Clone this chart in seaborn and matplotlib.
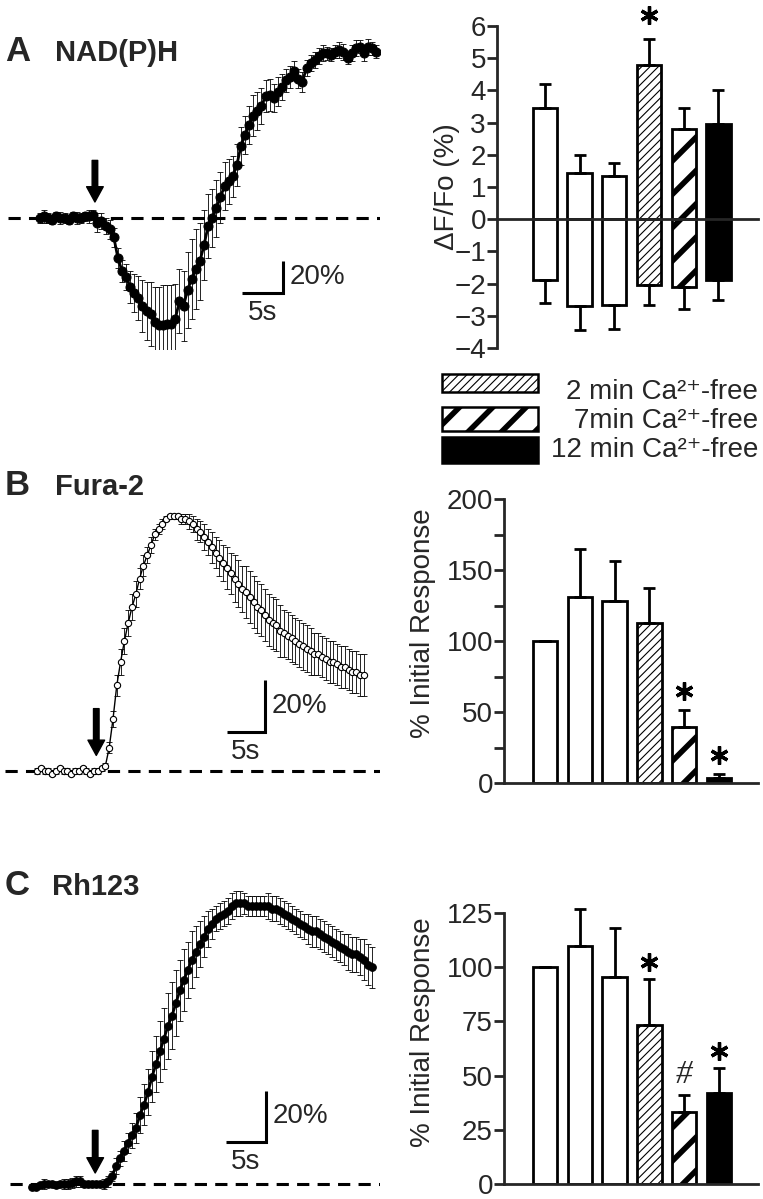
import numpy as np
import matplotlib
matplotlib.use("Agg")
import matplotlib.pyplot as plt
from matplotlib.patches import Rectangle
from matplotlib.ticker import MultipleLocator
from matplotlib.transforms import offset_copy
import seaborn as sns

sns.set_style("ticks")
plt.rcParams['font.family'] = ['Liberation Sans', 'DejaVu Sans']
plt.rcParams['hatch.color'] = 'black'

W, H = 763, 1199
dt = 0.5  # sampling interval of the traces (s)
FS = 20

# ---- traces: % change from baseline, mean and SEM ----
nadh_mean = [0, 1, 0, -1, 1, 0, 0, -1, 1, 0, 0, 1, 1, 2,
             -3, -2, -5, -7, -12,
             -25, -33, -37, -43, -47, -50,
             -55, -58, -60, -65, -67, -67, -66, -66, -63, -52,
             -55, -45, -38, -32, -27, -17, -5, 0,
             6, 13, 20, 23, 26, 33, 45, 52,
             58, 64, 67, 70, 76, 77, 75, 79,
             82, 86, 88, 92, 87, 85, 94, 97,
             99, 101, 103, 103, 102, 104, 105, 104, 100, 103, 106, 107, 103, 107, 106, 104]
nadh_sem = [3, 4, 3, 3, 3, 4, 3, 3, 3, 4, 3, 3, 4, 3,
            6, 5, 5, 6, 6,
            6, 7, 8, 10, 12, 14,
            16, 18, 20, 22, 24, 25, 24, 24, 22, 20,
            22, 24, 25, 25, 24, 22, 20, 18,
            18, 16, 15, 14, 13, 13, 12, 12,
            12, 13, 12, 11, 10, 10, 9, 9,
            8, 7, 7, 6, 6, 6, 5, 5,
            5, 5, 5, 4, 4, 4, 5, 5, 4, 5, 5, 4, 5, 5, 4, 4]

fura_mean = [0, 1, 0, 0, -1, 0, 1, 0, 0, -1, 0, 0, 1, 0, -1, 0, 0, 1,
             2, 9, 20, 33, 42, 50, 57, 63, 68, 74, 79, 83, 87, 91, 93,
             95, 97, 98, 98, 98, 97, 97, 96,
             95, 93, 92, 90, 88, 86, 84, 82, 80, 78, 76, 74, 72, 70, 69, 67,
             65, 63, 62, 60, 58, 57, 56, 54, 53, 52, 51, 50, 49, 48, 47,
             46, 45, 45, 44, 43, 42, 42, 41, 40, 40, 39, 38, 38, 37, 37]
fura_sem = [1, 1, 1, 1, 1, 1, 1, 1, 1, 1, 1, 1, 1, 1, 1, 1, 1, 1,
            1, 2, 3, 4, 5, 5, 5, 5, 5, 4, 4, 3, 3, 2, 2,
            2, 1, 1, 1, 1, 2, 2, 3,
            3, 4, 4, 5, 5, 6, 6, 7, 7, 8, 8, 9, 9, 9, 10, 10,
            10, 10, 10, 10, 10, 10, 10, 10, 9, 9, 9, 9, 9, 9, 9,
            9, 8, 8, 8, 8, 8, 8, 8, 8, 8, 8, 8, 8, 8, 8]

rh_mean = [-1, -1, -0.5, 0, 0, 0, -0.5, 0, 0, 0, 0.5, 1, 1, 0, 0, 0, 0, 0, 0, 1,
           3, 7, 10, 13, 16, 19, 22, 27, 31, 36, 42, 47, 52, 57, 62, 66, 71, 76, 80, 84,
           88, 91, 94, 97, 100, 102, 104, 105, 106, 107, 109, 110, 110, 110, 109, 109, 109, 109, 109, 109,
           108, 108, 107, 106, 105, 104, 103, 102, 101, 100, 99, 99, 98, 97, 96, 95, 94, 93, 92, 91,
           90, 90, 89, 88, 86, 85]
rh_sem = [1, 1, 1, 2, 1, 1, 1, 1, 2, 2, 2, 2, 2, 1, 1, 1, 1, 1, 2, 2,
          2, 3, 3, 4, 4, 5, 6, 7, 8, 9, 10, 11, 12, 12, 13, 13, 13, 12, 12, 11,
          11, 10, 9, 8, 7, 6, 5, 5, 5, 5, 5, 5, 5, 4, 4, 4, 4, 4, 4, 5,
          5, 5, 5, 5, 5, 5, 5, 5, 5, 6, 6, 6, 6, 6, 6, 6, 6, 6, 6, 7,
          7, 7, 7, 8, 8, 8]

# ---- bar data ----
groups = ["1", "2", "3", "2 min", "7 min", "12 min"]
nadh_up = [3.45, 1.45, 1.35, 4.8, 2.8, 2.95]
nadh_up_err = [0.75, 0.55, 0.4, 0.8, 0.65, 1.05]
nadh_down = [-1.9, -2.7, -2.65, -2.05, -2.1, -1.9]
nadh_down_err = [0.7, 0.75, 0.75, 0.6, 0.7, 0.6]
fura_bar = [100, 131, 128, 113, 39.5, 3.8]
fura_bar_err = [0, 34, 28, 24, 12, 2.2]
rh_bar = [100, 110, 95.4, 73.2, 33.4, 41.8]
rh_bar_err = [0, 17, 22.6, 21.4, 7.7, 11.9]

legend_labels = ["2 min Ca²⁺-free", "7min Ca²⁺-free", "12 min Ca²⁺-free"]

fig = plt.figure(figsize=(W / 100, H / 100), dpi=100)


def px_axes(left, top, right, bottom):
    return fig.add_axes([left / W, 1 - bottom / H, (right - left) / W, (bottom - top) / H])


def style_bar(p, i):
    if i == 3:
        p.set_hatch('////')
        if hasattr(p, 'set_hatch_linewidth'):
            p.set_hatch_linewidth(0.8)
    elif i == 4:
        p.set_hatch('/')
        if hasattr(p, 'set_hatch_linewidth'):
            p.set_hatch_linewidth(4.0)
    elif i == 5:
        p.set_facecolor('black')


def trace(ax, mean, sem, style, xlim, ylim, arrow, sbar):
    t = np.arange(len(mean)) * dt
    ax.axhline(0, color='black', lw=2.2, ls=(0, (4, 2.7)), zorder=1)
    ax.errorbar(t, mean, yerr=sem, fmt='none', ecolor='black', elinewidth=0.6,
                capsize=2.5, capthick=0.6, zorder=2)
    if style == 'open':
        sns.lineplot(x=t, y=mean, ax=ax, color='black', lw=1.0, marker='o', markersize=4.5,
                     markerfacecolor='white', markeredgecolor='black', markeredgewidth=0.8, zorder=3)
    else:
        sns.lineplot(x=t, y=mean, ax=ax, color='black', lw=2.0, marker='o', markersize=style,
                     markerfacecolor='black', markeredgecolor='black', zorder=3)
    ta, tip, tail = arrow
    ax.annotate('', xy=(ta, tip), xytext=(ta, tail),
                arrowprops=dict(facecolor='black', edgecolor='black', width=4, headwidth=12,
                                headlength=11, shrink=0))
    t0, y0 = sbar
    ax.plot([t0, t0 + 5, t0 + 5], [y0, y0, y0 + 20], color='black', lw=2.2,
            solid_joinstyle='miter', solid_capstyle='butt')
    ax.annotate('20%', xy=(t0 + 5, y0 + 10), xytext=(7, 0), textcoords='offset pixels',
                fontsize=FS, va='center', ha='left')
    ax.annotate('5s', xy=(t0 + 2.5, y0), xytext=(0, -20), textcoords='offset pixels',
                fontsize=FS, va='center', ha='center')
    ax.set_xlim(*xlim)
    ax.set_ylim(*ylim)
    ax.set_axis_off()


def bars(ax, vals, errs, ylim, ylabel, label_xy):
    sns.barplot(x=groups, y=vals, ax=ax, color='white', edgecolor='black', linewidth=2,
                width=0.7, saturation=1, errorbar=None)
    for i, p in enumerate(ax.patches[-len(groups):]):
        style_bar(p, i)
    ax.errorbar(range(len(groups)), vals, yerr=[np.zeros(len(errs)), errs], fmt='none',
                ecolor='black', elinewidth=2, capsize=4.5, capthick=2, clip_on=False)
    ax.set_ylim(*ylim)
    ax.set_xlim(-1.18, 6.12)
    ax.set_xticks([])
    ax.set_xlabel('')
    ax.set_ylabel(ylabel, fontsize=FS)
    ax.yaxis.set_label_coords(*label_xy)
    sns.despine(ax=ax)
    for s in ('left', 'bottom'):
        ax.spines[s].set_linewidth(2)
    ax.tick_params(axis='y', which='both', direction='out', length=7, width=2, labelsize=FS, pad=1)


def marks(ax, idx, tops, sym, dy):
    tr = offset_copy(ax.transData, fig=fig, y=dy, units='dots')
    for i in idx:
        if sym == '*':
            ax.plot(i, tops[i], marker=(6, 2, 0), ms=13, mew=2.4, color='black',
                    transform=tr, clip_on=False)
        else:
            ax.text(i, tops[i], sym, transform=tr, ha='center', va='center', fontsize=24,
                    family='Liberation Serif', style='italic', clip_on=False)


# ---------------- Panel A ----------------
axA = px_axes(8, 30, 380, 350)
trace(axA, nadh_mean, nadh_sem, 6.5, (-3.9, 41.46), (-82.5, 117.5), (6.7, 10, 36), (24.6, -47))
fig.text(5 / W, 1 - 61 / H, 'A', fontsize=25, fontweight='bold')
fig.text(55 / W, 1 - 61 / H, 'NAD(P)H', fontsize=21, fontweight='bold')

axAb = px_axes(497, 26, 758, 348)
sns.barplot(x=groups, y=nadh_up, ax=axAb, color='white', edgecolor='black', linewidth=2,
            width=0.7, saturation=1, errorbar=None)
sns.barplot(x=groups, y=nadh_down, ax=axAb, color='white', edgecolor='black', linewidth=2,
            width=0.7, saturation=1, errorbar=None)
for i, p in enumerate(axAb.patches):
    style_bar(p, i % len(groups))
n = len(groups)
axAb.errorbar(range(n), nadh_up, yerr=[np.zeros(n), nadh_up_err], fmt='none',
              ecolor='black', elinewidth=2, capsize=4.5, capthick=2)
axAb.errorbar(range(n), nadh_down, yerr=[nadh_down_err, np.zeros(n)], fmt='none',
              ecolor='black', elinewidth=2, capsize=4.5, capthick=2)
axAb.set_ylim(-4, 6)
axAb.set_xlim(-1.38, 6.14)
axAb.set_yticks(range(-4, 7))
axAb.set_xticks([])
axAb.set_xlabel('')
axAb.set_ylabel('ΔF/Fo (%)', fontsize=FS)
axAb.yaxis.set_label_coords(-0.142, 0.5)
sns.despine(ax=axAb)
axAb.spines['bottom'].set_position(('data', 0))
for s in ('left', 'bottom'):
    axAb.spines[s].set_linewidth(2)
axAb.tick_params(axis='y', direction='out', length=7, width=2, labelsize=FS, pad=1)
marks(axAb, [3], [u + e for u, e in zip(nadh_up, nadh_up_err)], '*', 24)

# legend
rows = [(374, 392, '////', 'white', 399), (407, 431, '/', 'white', 428), (437, 463, None, 'black', 457)]
for (top, bot, hatch, fc, base), lab in zip(rows, legend_labels):
    r = Rectangle((442 / W, 1 - bot / H), 96 / W, (bot - top) / H, transform=fig.transFigure,
                  facecolor=fc, edgecolor='black', linewidth=1.8, hatch=hatch)
    if hatch and hasattr(r, 'set_hatch_linewidth'):
        r.set_hatch_linewidth(0.8 if hatch == '////' else 4.0)
    fig.add_artist(r)
    fig.text(758 / W, 1 - base / H, lab, fontsize=FS, ha='right', va='baseline')

# ---------------- Panel B ----------------
axB = px_axes(5, 470, 380, 790)
trace(axB, fura_mean, fura_sem, 'open', (-4.21, 45.13), (-7.3, 115.8), (7.8, 6, 24), (25, 15))
fig.text(5 / W, 1 - 495 / H, 'B', fontsize=25, fontweight='bold')
fig.text(55 / W, 1 - 495 / H, 'Fura-2', fontsize=21, fontweight='bold')

axBb = px_axes(504, 499, 758, 783)
bars(axBb, fura_bar, fura_bar_err, (0, 200), '% Initial Response', (-0.268, 0.563))
axBb.yaxis.set_major_locator(MultipleLocator(50))
axBb.yaxis.set_minor_locator(MultipleLocator(25))
marks(axBb, [4, 5], [v + e for v, e in zip(fura_bar, fura_bar_err)], '*', 19)

# ---------------- Panel C ----------------
axC = px_axes(10, 870, 380, 1199)
trace(axC, rh_mean, rh_sem, 5.5, (-2.75, 43.5), (-5.9, 123.1), (7.9, 4.3, 21), (24.25, 16.5))
fig.text(5 / W, 1 - 895 / H, 'C', fontsize=25, fontweight='bold')
fig.text(52 / W, 1 - 895 / H, 'Rh123', fontsize=21, fontweight='bold')

axCb = px_axes(504, 913, 758, 1184)
bars(axCb, rh_bar, rh_bar_err, (0, 125), '% Initial Response', (-0.268, 0.56))
axCb.yaxis.set_major_locator(MultipleLocator(25))
tops_c = [v + e for v, e in zip(rh_bar, rh_bar_err)]
marks(axCb, [3, 5], tops_c, '*', 17)
marks(axCb, [4], tops_c, '#', 20)

fig.savefig('out.png', dpi=100)
